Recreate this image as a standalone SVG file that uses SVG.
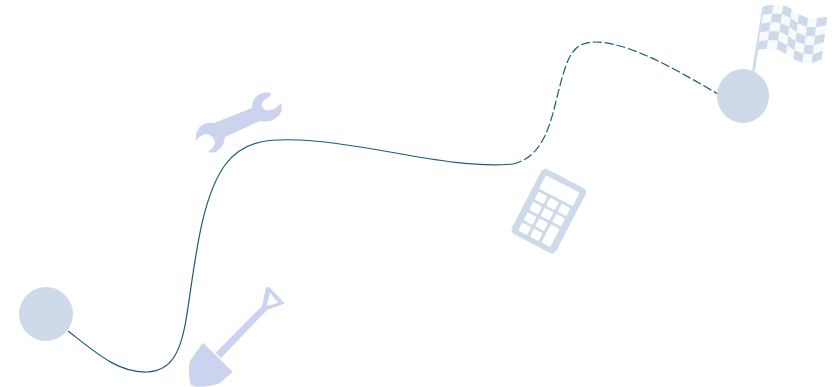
<svg xmlns="http://www.w3.org/2000/svg" width="833" height="387" viewBox="0 0 833 387">
<style>
.stop{fill:#cedae9}
.tool{fill:#cbd3ef}
.route{fill:none;stroke:#1a5c78;stroke-width:1.2}
.key{fill:#fff}
</style>
<rect width="833" height="387" fill="#fff"/>
<g id="connectors">
<path class="route" d="M68,331 C95,352 118,373 147,372 C170,371 180,355 186,320 C195,265 200,200 225,165 C245,138 275,139 300,140 C370,143 450,170 513,164"/>
<path class="route" stroke-dasharray="9 3" d="M513,164 C550,155 552,110 563,75 C570,50 578,42 595,42 C630,42 680,72 718,94"/>
</g>
<g id="start"><circle class="stop" cx="46" cy="314" r="27"/></g>
<g id="finish">
<ellipse class="stop" cx="743" cy="96" rx="26" ry="27"/>
<path class="stop" d="M752,71 L762.500,7 L764.500,7 L755,71 Z"/>
<path fill="#f8fafc" d="M764,6 L773.300,4.700 L783.300,5 L791.700,9 L798.700,14.300 L808,18 L817,18.300 L827.300,16.700 L821.700,59.300 L811.700,63.300 L802.300,62.700 L793.300,59.300 L786,54 L776.700,49.300 L766.700,48.700 L757.300,50 Z"/>
<path class="stop" d="M764,6 L773.300,4.700 L772,13.500 L762.700,14.800 Z M783.300,5 L791.700,9 L790.600,18 L782,13.900 Z M798.700,14.300 L808,18 L806.900,26.900 L797.600,23.300 Z M817,18.300 L827.300,16.700 L826.200,25.200 L815.900,27.300 Z
M772,13.500 L782,13.900 L780.700,22.700 L770.700,22.300 Z M790.600,18 L797.600,23.300 L796.500,32.300 L789.400,27 Z M806.900,26.900 L815.900,27.300 L814.900,36.300 L805.700,35.900 Z
M761.300,23.600 L770.700,22.300 L769.300,31.100 L760,32.400 Z M780.700,22.700 L789.400,27 L788.300,36 L779.300,31.600 Z M796.500,32.300 L805.700,35.900 L804.600,44.800 L795.500,41.300 Z M814.900,36.300 L825,33.700 L823.900,42.300 L813.800,45.300 Z
M769.300,31.100 L779.300,31.600 L778,40.400 L768,39.900 Z M788.300,36 L795.500,41.300 L794.400,50.300 L787.100,45 Z M804.600,44.800 L813.800,45.300 L812.800,54.300 L803.400,53.800 Z
M758.600,41.200 L768,39.900 L766.700,48.700 L757.300,50 Z M778,40.400 L787.100,45 L786,54 L776.700,49.300 Z M794.400,50.300 L803.400,53.800 L802.300,62.700 L793.300,59.300 Z M812.800,54.300 L822.800,50.800 L821.700,59.300 L811.700,63.300 Z"/>
</g>
<g id="wrench">
<path class="tool" d="M267,92.500 Q274,93 269,97 Q260,102 262,106 Q265,112 271,110 Q276,109 281,103 Q284,112 276,118 Q270,123 260,121 L225,137 Q224,147 216,152 Q212,153 208,152 Q216,146 215,141 Q212,134 205,134 Q199,136 196,141 Q195,132 200,127 Q205,122 214,123 L252,108 Q252,99 258,95 Q262,92 267,92.500 Z"/>
</g>
<g id="calculator" transform="translate(548.5,211.5) rotate(27.5)">
<rect class="stop" x="-25" y="-37" width="50" height="73" rx="5"/>
<rect class="key" x="-19" y="-31" width="38" height="15" rx="1.500"/>
<rect class="key" x="-18" y="-13.200" width="10" height="9" rx="1.500"/>
<rect class="key" x="-5" y="-13.200" width="10" height="9" rx="1.500"/>
<rect class="key" x="8" y="-13.200" width="10" height="9" rx="1.500"/>
<rect class="key" x="-18" y="-1.500" width="10" height="9" rx="1.500"/>
<rect class="key" x="-5" y="-1.500" width="10" height="9" rx="1.500"/>
<rect class="key" x="8" y="-1.500" width="10" height="9" rx="1.500"/>
<rect class="key" x="-18" y="10.200" width="10" height="9" rx="1.500"/>
<rect class="key" x="-5" y="10.200" width="10" height="9" rx="1.500"/>
<rect class="key" x="-18" y="21.800" width="10" height="9" rx="1.500"/>
<rect class="key" x="-5" y="21.800" width="10" height="9" rx="1.500"/>
<rect class="key" x="8" y="10.200" width="10" height="20.600" rx="1.500"/>
</g>
<g id="shovel">
<path class="tool" fill-rule="evenodd" d="M266,287.500 Q268,286.500 270,288 L285,303.500 L267,310 L221,358 L215.500,353 L262,306 Z M270,292.700 L266.700,306 L278.300,302.700 Z"/>
<path class="tool" d="M203,342.700 L232.700,371.700 L220,383 Q208,387.500 196.700,386.700 Q190,386 190,382 Q188,370 189.500,364 Q190,360 192,358 Z"/>
</g>
</svg>
